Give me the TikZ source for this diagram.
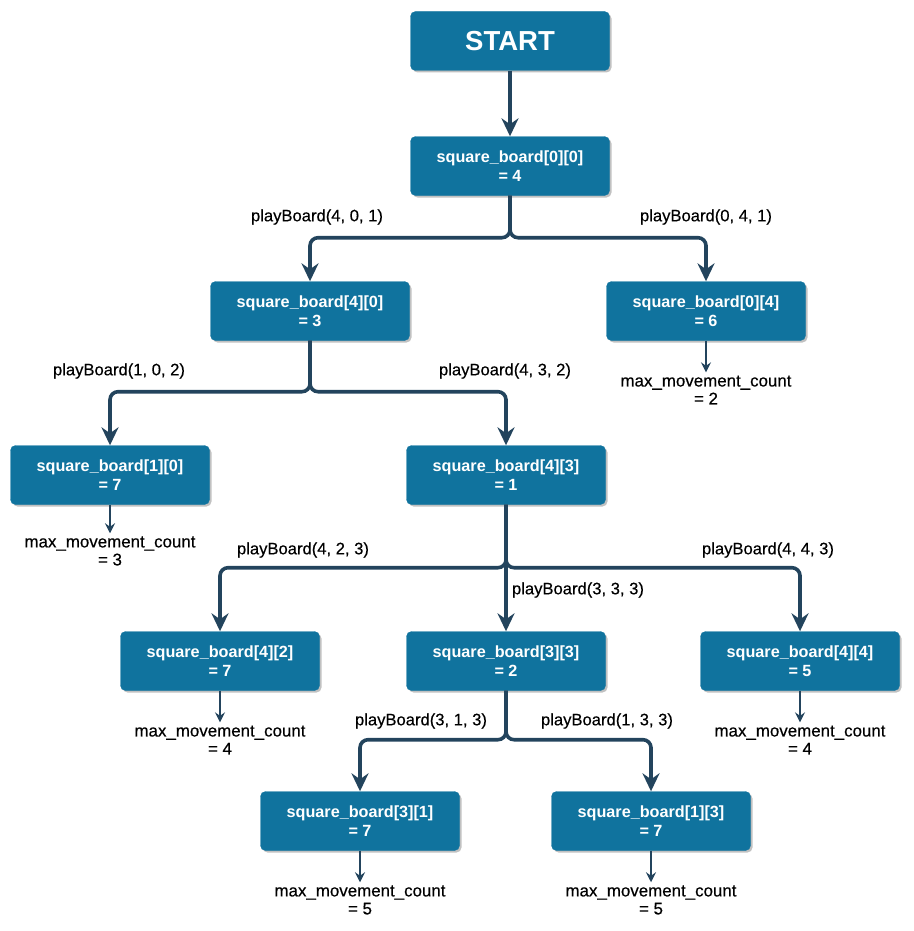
\documentclass[tikz,border=0pt]{standalone}
\usepackage{fontspec}
\setmainfont{Liberation Sans}
\newfontfamily\callfont{Liberation Sans}[FakeBold=0.4]
\usepackage{tikz}
\usetikzlibrary{arrows.meta,shadows,calc,positioning}
\definecolor{boardblue}{HTML}{10739E}
\definecolor{edgeblue}{HTML}{23445D}

\begin{document}
\begin{tikzpicture}[x=1pt,y=-1pt]
					\tikzstyle{every node}=[inner sep=2pt]

					\tikzstyle{sqbox}=[draw=boardblue,fill=boardblue,rounded corners=5pt,
					    minimum width=199pt,minimum height=59pt,text=white,align=center,
					    font=\fontsize{16.2}{19}\selectfont\bfseries,
					    drop shadow={shadow xshift=2pt,shadow yshift=-2pt,fill=black!30,opacity=0.8}]
					\tikzstyle{call}=[font=\callfont\fontsize{16.6}{18}\selectfont,align=center]
					\tikzstyle{maxtxt}=[font=\callfont\fontsize{16.9}{18}\selectfont,align=center,inner sep=3pt]
					\tikzstyle{l} = [draw=edgeblue,line width=3.6pt,rounded corners=8pt,
					    -{Stealth[length=18pt,width=17pt,inset=6pt]}]
					\tikzstyle{t} = [draw=edgeblue,line width=1.6pt,
					    -{Stealth[length=10pt,width=10pt,inset=3.5pt]}]

					\useasboundingbox (0,0) rectangle (913,931);

					%% Boxes
					\node [sqbox,font=\fontsize{27.5}{30}\selectfont\bfseries] (start) at (510,41) {START};
					\node [sqbox] (b00) at (510,166) {square\_board[0][0]\\= 4};
					\node [sqbox] (b40) at (310,311) {square\_board[4][0]\\= 3};
					\node [sqbox] (b04) at (706,311) {square\_board[0][4]\\= 6};
					\node [sqbox] (b10) at (110,475) {square\_board[1][0]\\= 7};
					\node [sqbox] (b43) at (506,475) {square\_board[4][3]\\= 1};
					\node [sqbox] (b42) at (220,661) {square\_board[4][2]\\= 7};
					\node [sqbox] (b33) at (506,661) {square\_board[3][3]\\= 2};
					\node [sqbox] (b44) at (800,661) {square\_board[4][4]\\= 5};
					\node [sqbox] (b31) at (360,821) {square\_board[3][1]\\= 7};
					\node [sqbox] (b13) at (651,821) {square\_board[1][3]\\= 7};

					%% Call labels
					\node [call] (c401) at (317,217) {playBoard(4, 0, 1)};
					\node [call] (c041) at (706,217) {playBoard(0, 4, 1)};
					\node [call] (c102) at (119,371) {playBoard(1, 0, 2)};
					\node [call] (c432) at (505,371) {playBoard(4, 3, 2)};
					\node [call] (c423) at (303,550) {playBoard(4, 2, 3)};
					\node [call] (c333) at (578,590) {playBoard(3, 3, 3)};
					\node [call] (c443) at (768,550) {playBoard(4, 4, 3)};
					\node [call] (c313) at (421,721) {playBoard(3, 1, 3)};
					\node [call] (c133) at (607,721) {playBoard(1, 3, 3)};

					%% Results
					\node [maxtxt] (m04) at (706,390) {max\_movement\_count\\= 2};
					\node [maxtxt] (m10) at (110,551) {max\_movement\_count\\= 3};
					\node [maxtxt] (m42) at (220,740) {max\_movement\_count\\= 4};
					\node [maxtxt] (m44) at (800,740) {max\_movement\_count\\= 4};
					\node [maxtxt] (m31) at (360,900) {max\_movement\_count\\= 5};
					\node [maxtxt] (m13) at (651,900) {max\_movement\_count\\= 5};

					%% Calls
					\path [l] (start) -- (b00);
					\path [l] (b00.south) -- ++(0,42) -| (b40.north);
					\path [l] (b00.south) -- ++(0,42) -| (b04.north);
					\path [l] (b40.south) -- ++(0,51) -| (b10.north);
					\path [l] (b40.south) -- ++(0,51) -| (b43.north);
					\path [l] (b43.south) -- ++(0,63) -| (b42.north);
					\path [l] (b43.south) -- (b33.north);
					\path [l] (b43.south) -- ++(0,63) -| (b44.north);
					\path [l] (b33.south) -- ++(0,49) -| (b31.north);
					\path [l] (b33.south) -- ++(0,49) -| (b13.north);

					%% Returns
					\path [t] (b04.south) -- (m04.north);
					\path [t] (b10.south) -- (m10.north);
					\path [t] (b42.south) -- (m42.north);
					\path [t] (b44.south) -- (m44.north);
					\path [t] (b31.south) -- (m31.north);
					\path [t] (b13.south) -- (m13.north);

\end{tikzpicture}
\end{document}
